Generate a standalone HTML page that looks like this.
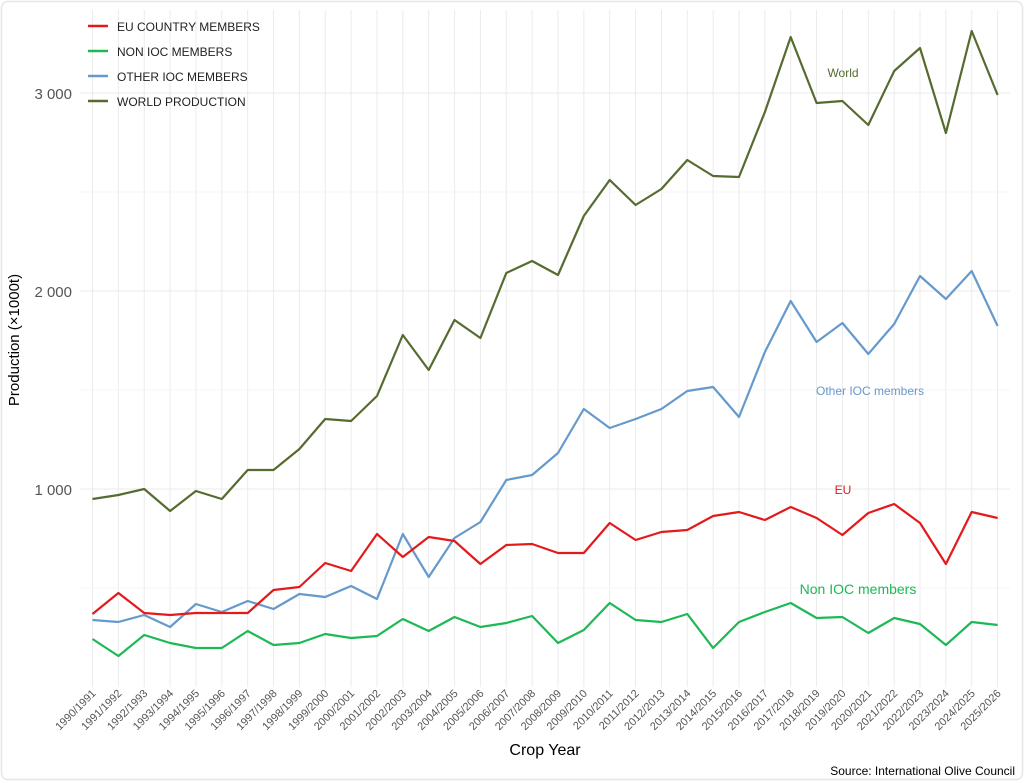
<!DOCTYPE html>
<html><head><meta charset="utf-8"><style>
body{margin:0;background:#fff;font-family:"Liberation Sans",Arial,sans-serif}
svg{display:block}
</style></head><body>
<svg width="1024" height="781" xmlns="http://www.w3.org/2000/svg" font-family="Liberation Sans, Arial, sans-serif">
<rect width="1024" height="781" fill="#fff"/>
<rect x="1.5" y="1.5" width="1021" height="778" rx="6" fill="none" stroke="#e6e6e6" stroke-width="1.5"/>
<g id="grid" stroke="#ebebeb" stroke-width="1"></g>
<g id="series" fill="none" stroke-width="2.2" stroke-linejoin="round"></g>
<g id="xl" font-size="11" fill="#555"></g>
<g font-size="15" fill="#555" text-anchor="end">
<text x="72" y="99">3 000</text><text x="72" y="297">2 000</text><text x="72" y="495">1 000</text>
</g>
<text transform="translate(19,340) rotate(-90)" text-anchor="middle" font-size="15" fill="#000">Production (×1000t)</text>
<text x="545" y="755" text-anchor="middle" font-size="16" fill="#000">Crop Year</text>
<text x="1015" y="775" text-anchor="end" font-size="12" fill="#000">Source: International Olive Council</text>
<text x="843" y="77" text-anchor="middle" font-size="12" fill="#556b2f">World</text>
<text x="870" y="395" text-anchor="middle" font-size="12" fill="#6699cc">Other IOC members</text>
<text x="843" y="494" text-anchor="middle" font-size="12" fill="#e31a1c">EU</text>
<text x="858" y="594" text-anchor="middle" font-size="14" fill="#1db954">Non IOC members</text>
<g font-size="12" fill="#222">
<line x1="88" y1="26" x2="108" y2="26" stroke="#e31a1c" stroke-width="2.5"/><text x="117" y="31">EU COUNTRY MEMBERS</text>
<line x1="88" y1="51" x2="108" y2="51" stroke="#1db954" stroke-width="2.5"/><text x="117" y="56">NON IOC MEMBERS</text>
<line x1="88" y1="76" x2="108" y2="76" stroke="#6699cc" stroke-width="2.5"/><text x="117" y="81">OTHER IOC MEMBERS</text>
<line x1="88" y1="101" x2="108" y2="101" stroke="#556b2f" stroke-width="2.5"/><text x="117" y="106">WORLD PRODUCTION</text>
</g>
<script>
var ns="http://www.w3.org/2000/svg",x0=92.5,dx=25.86;
var g=document.getElementById('grid');
function L(p,a){var e=document.createElementNS(ns,'line');for(var k in a)e.setAttribute(k,a[k]);p.appendChild(e);}
for(var i=0;i<36;i++){L(g,{x1:x0+i*dx,y1:10,x2:x0+i*dx,y2:687});}
[93,291,489].forEach(function(y){L(g,{x1:80,y1:y,x2:1010,y2:y});});
[192,390,588].forEach(function(y){L(g,{x1:80,y1:y,x2:1010,y2:y,stroke:'#f4f4f4'});});
var D={
'#556b2f':[499,495,489,511,491,499,470,470,449,419,421,396,335,370,320,338,273,261,275,216,180,205,189,160,176,177,112,37,103,101,125,71,48,133,31,95],
'#6699cc':[620,622,615,627,604,612,601,609,594,597,586,599,534,577,538,522,480,475,453,409,428,419,409,391,387,417,352,301,342,323,354,324,276,299,271,326],
'#e31a1c':[614,593,613,615,613,613,613,590,587,563,571,534,557,537,541,564,545,544,553,553,523,540,532,530,516,512,520,507,518,535,513,504,523,564,512,518],
'#1db954':[639,656,635,643,648,648,631,645,643,634,638,636,619,631,617,627,623,616,643,630,603,620,622,614,648,622,612,603,618,617,633,618,624,645,622,625]};
var s=document.getElementById('series');
for(var c in D){var p=document.createElementNS(ns,'polyline');p.setAttribute('points',D[c].map(function(y,i){return (x0+i*dx).toFixed(1)+','+y}).join(' '));p.setAttribute('stroke',c);s.appendChild(p);}
var xl=document.getElementById('xl');
for(var i=0;i<36;i++){var t=document.createElementNS(ns,'text');var x=x0+i*dx+4,y=694;t.setAttribute('x',x);t.setAttribute('y',y);t.setAttribute('text-anchor','end');t.setAttribute('transform','rotate(-45 '+x+' '+y+')');t.textContent=(1990+i)+'/'+(1991+i);xl.appendChild(t);}
</script>
</svg>
</body></html>
